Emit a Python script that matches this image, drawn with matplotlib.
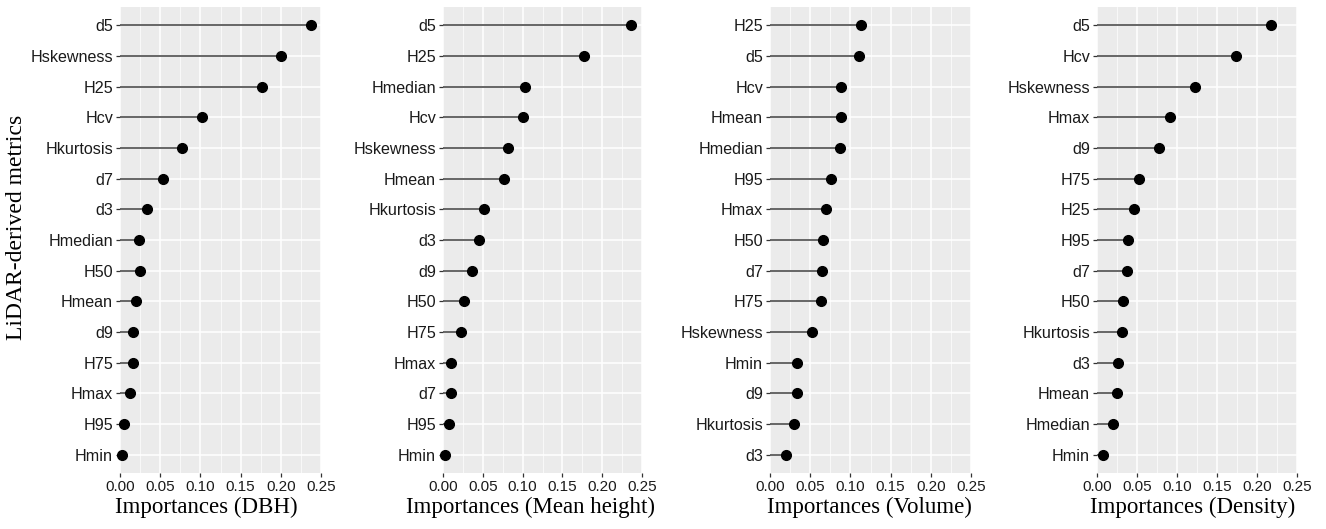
import numpy as np
import matplotlib
matplotlib.use("Agg")
import matplotlib.pyplot as plt
from matplotlib.ticker import MultipleLocator

# metric names (top to bottom) and importances for each response variable
dbh_metrics = ["d5", "Hskewness", "H25", "Hcv", "Hkurtosis", "d7", "d3", "Hmedian",
               "H50", "Hmean", "d9", "H75", "Hmax", "H95", "Hmin"]
dbh_values = [0.237, 0.200, 0.176, 0.102, 0.077, 0.054, 0.034, 0.024,
              0.025, 0.020, 0.016, 0.016, 0.012, 0.005, 0.002]

height_metrics = ["d5", "H25", "Hmedian", "Hcv", "Hskewness", "Hmean", "Hkurtosis", "d3",
                  "d9", "H50", "H75", "Hmax", "d7", "H95", "Hmin"]
height_values = [0.236, 0.177, 0.103, 0.100, 0.082, 0.077, 0.051, 0.045,
                 0.036, 0.027, 0.023, 0.010, 0.0095, 0.007, 0.002]

volume_metrics = ["H25", "d5", "Hcv", "Hmean", "Hmedian", "H95", "Hmax", "H50",
                  "d7", "H75", "Hskewness", "Hmin", "d9", "Hkurtosis", "d3"]
volume_values = [0.113, 0.111, 0.088, 0.088, 0.087, 0.076, 0.070, 0.066,
                 0.065, 0.064, 0.052, 0.034, 0.033, 0.030, 0.020]

density_metrics = ["d5", "Hcv", "Hskewness", "Hmax", "d9", "H75", "H25", "H95",
                   "d7", "H50", "Hkurtosis", "d3", "Hmean", "Hmedian", "Hmin"]
density_values = [0.218, 0.174, 0.122, 0.091, 0.077, 0.053, 0.046, 0.039,
                  0.037, 0.032, 0.031, 0.026, 0.025, 0.020, 0.008]

x_titles = ["Importances (DBH)", "Importances (Mean height)",
            "Importances (Volume)", "Importances (Density)"]

W, H = 1326, 529
# panel edges in pixels (left, right) and x-title centres
panel_px = [(120, 321), (443, 642), (770, 971), (1097, 1297)]
title_px = [206, 530, 869, 1193]
top_px, bottom_px = 7, 473

fig = plt.figure(figsize=(W / 100, H / 100), dpi=100)

panels = [(dbh_metrics, dbh_values), (height_metrics, height_values),
          (volume_metrics, volume_values), (density_metrics, density_values)]

for (names, vals), (l, r), title, tx in zip(panels, panel_px, x_titles, title_px):
    ax = fig.add_axes([l / W, 1 - bottom_px / H, (r - l) / W, (bottom_px - top_px) / H])
    n = len(names)
    ypos = np.arange(n)[::-1]
    ax.set_facecolor("#EBEBEB")
    ax.hlines(ypos, 0, vals, color="#5a5a5a", lw=1.3, zorder=3)
    ax.plot(vals, ypos, "o", color="black", ms=7, zorder=4, clip_on=False)
    ax.set_xlim(0, 0.25)
    ax.set_ylim(-0.6, n - 0.4)
    ax.set_yticks(ypos)
    ax.set_yticklabels(names, fontsize=11.6, family="Liberation Sans", color="#1a1a1a")
    ax.xaxis.set_minor_locator(MultipleLocator(0.025))
    ax.set_xticks([0, 0.05, 0.10, 0.15, 0.20, 0.25])
    ax.set_xticklabels(["0.00", "0.05", "0.10", "0.15", "0.20", "0.25"],
                       fontsize=11, family="Liberation Sans", color="#1a1a1a")
    ax.grid(which="major", color="white", lw=1.1, zorder=0)
    ax.grid(which="minor", axis="x", color="white", lw=0.5, zorder=0)
    ax.set_axisbelow(True)
    ax.tick_params(axis="both", which="major", length=3, width=0.9, color="#333333", pad=2)
    ax.tick_params(axis="x", which="minor", length=0)
    for s in ax.spines.values():
        s.set_visible(False)
    fig.text(tx / W, 1 - 507 / H, title, fontsize=16.5, family="Liberation Serif",
             ha="center", va="center")

fig.text(17 / W, 1 - 227 / H, "LiDAR-derived metrics", rotation=90,
         fontsize=17, family="Liberation Serif", ha="center", va="center")

fig.savefig("out.png", dpi=100)
